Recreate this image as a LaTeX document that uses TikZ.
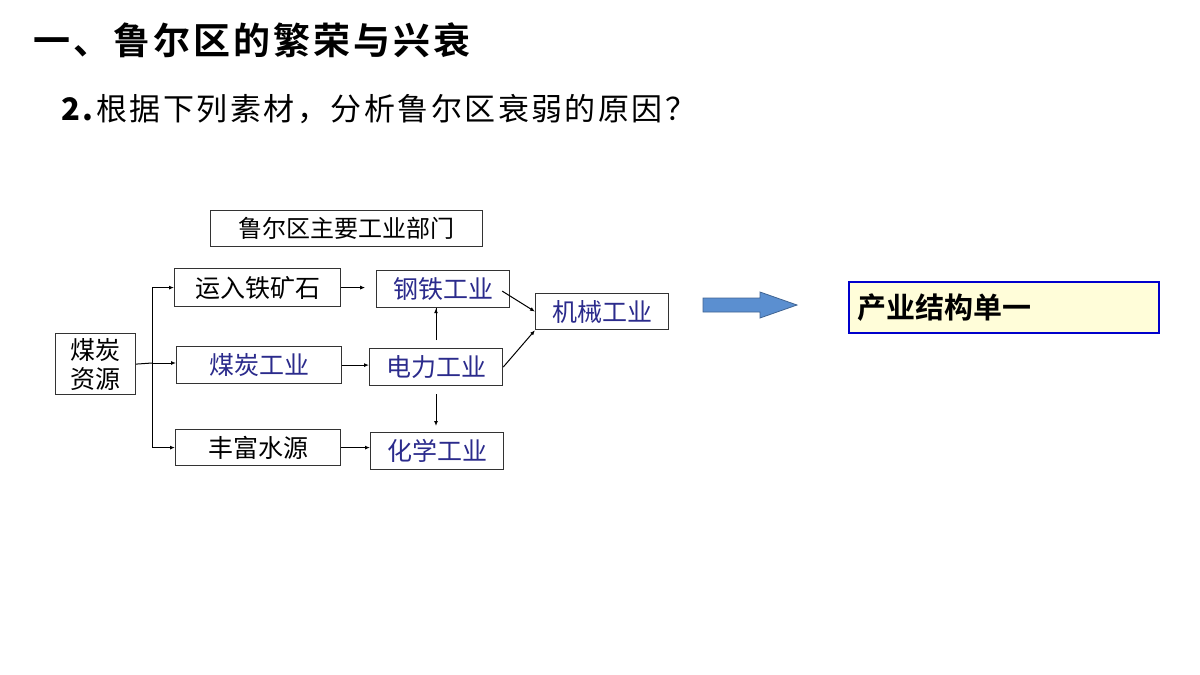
\documentclass[tikz,border=0pt]{standalone}
\usepackage{fontspec}
\setmainfont{Liberation Sans}
\newfontfamily\cjk{Noto Sans CJK SC}
\newfontfamily\cjkb{Noto Sans CJK SC Bold}
\newfontfamily\cjkw[LetterSpace=8]{Noto Sans CJK SC}
\newfontfamily\cjkbw[LetterSpace=8]{Noto Sans CJK SC Bold}
\definecolor{txtblue}{HTML}{2B2B8C}
\definecolor{arrblue}{HTML}{5B8FD0}
\tikzset{
 bx/.style={draw=black!80,line width=1.2pt,fill=white,inner sep=0pt,anchor=north west,font=\cjk\fontsize{25}{28}\selectfont},
 con/.style={line width=1pt,-{Latex[length=5pt,width=4pt]}}
}
\usetikzlibrary{arrows.meta,calc}
\begin{document}
\begin{tikzpicture}[x=1pt,y=-1pt]
\useasboundingbox (0,0) rectangle (1200,675);
\node[anchor=west,font=\cjkbw\fontsize{37}{40}\selectfont] (t1) at (30,40) {一、鲁尔区的繁荣与兴衰};
\node[anchor=west,font=\cjkw\fontsize{31}{34}\selectfont] (t2) at (58,109) {\textbf{2.}根据下列素材，分析鲁尔区衰弱的原因？};
\node[bx,minimum width=272pt,minimum height=36pt,font=\cjk\fontsize{24}{28}\selectfont] (hd) at (210,210) {鲁尔区主要工业部门};
\node[bx,minimum width=80pt,minimum height=61pt,align=center,font=\cjk\fontsize{25}{29}\selectfont] (mt) at (55,333) {煤炭\\资源};
\node[bx,minimum width=166pt,minimum height=38pt] (yr) at (174,268) {运入铁矿石};
\node[bx,minimum width=165pt,minimum height=37pt,text=txtblue] (mg) at (176,346) {煤炭工业};
\node[bx,minimum width=165pt,minimum height=36pt] (fs) at (175,429) {丰富水源};
\node[bx,minimum width=133pt,minimum height=37pt,text=txtblue] (gt) at (376,270) {钢铁工业};
\node[bx,minimum width=133pt,minimum height=37pt,text=txtblue] (dl) at (369,348) {电力工业};
\node[bx,minimum width=133pt,minimum height=37pt,text=txtblue] (hx) at (370,432) {化学工业};
\node[bx,minimum width=133pt,minimum height=36pt,text=txtblue] (jx) at (535,293) {机械工业};
\coordinate (br) at (152,363);
\draw[line width=1pt] (mt.east) -- (br);
\draw[con] (br) |- (yr.west);
\draw[con] (br) -- (br -| mg.west);
\draw[con] (br) |- (fs.west);
\draw[con] (yr.east) -- ++(24,0);
\draw[con] (mg.east) -- (mg.east -| dl.west);
\draw[con] (fs.east) -- (fs.east -| hx.west);
\coordinate (vx) at (436,0);
\draw[con] (vx |- dl.north) ++(0,-8) -- (vx |- gt.south) ++(0,0);
\draw[con] ($(vx |- dl.south)+(0,8)$) -- ($(vx |- hx.north)+(0,-6)$);
\draw[con] ($(gt.east)+(-8,2)$) -- (jx.west);
\draw[con] (dl.east) -- (jx.south west);
\path[draw=arrblue!70!black,fill=arrblue,line width=0.8pt] (703,298) -- (760,298) -- (760,292) -- (797,305) -- (760,318) -- (760,312) -- (703,312) -- cycle;
\node[draw=blue!80!black,line width=2pt,fill=yellow!15,anchor=north west,minimum width=310pt,minimum height=51pt,inner sep=8pt,font=\cjkb\fontsize{29}{32}\selectfont,text width=294pt,align=left] (cy) at (848,281) {产业结构单一};
\end{tikzpicture}
\end{document}
